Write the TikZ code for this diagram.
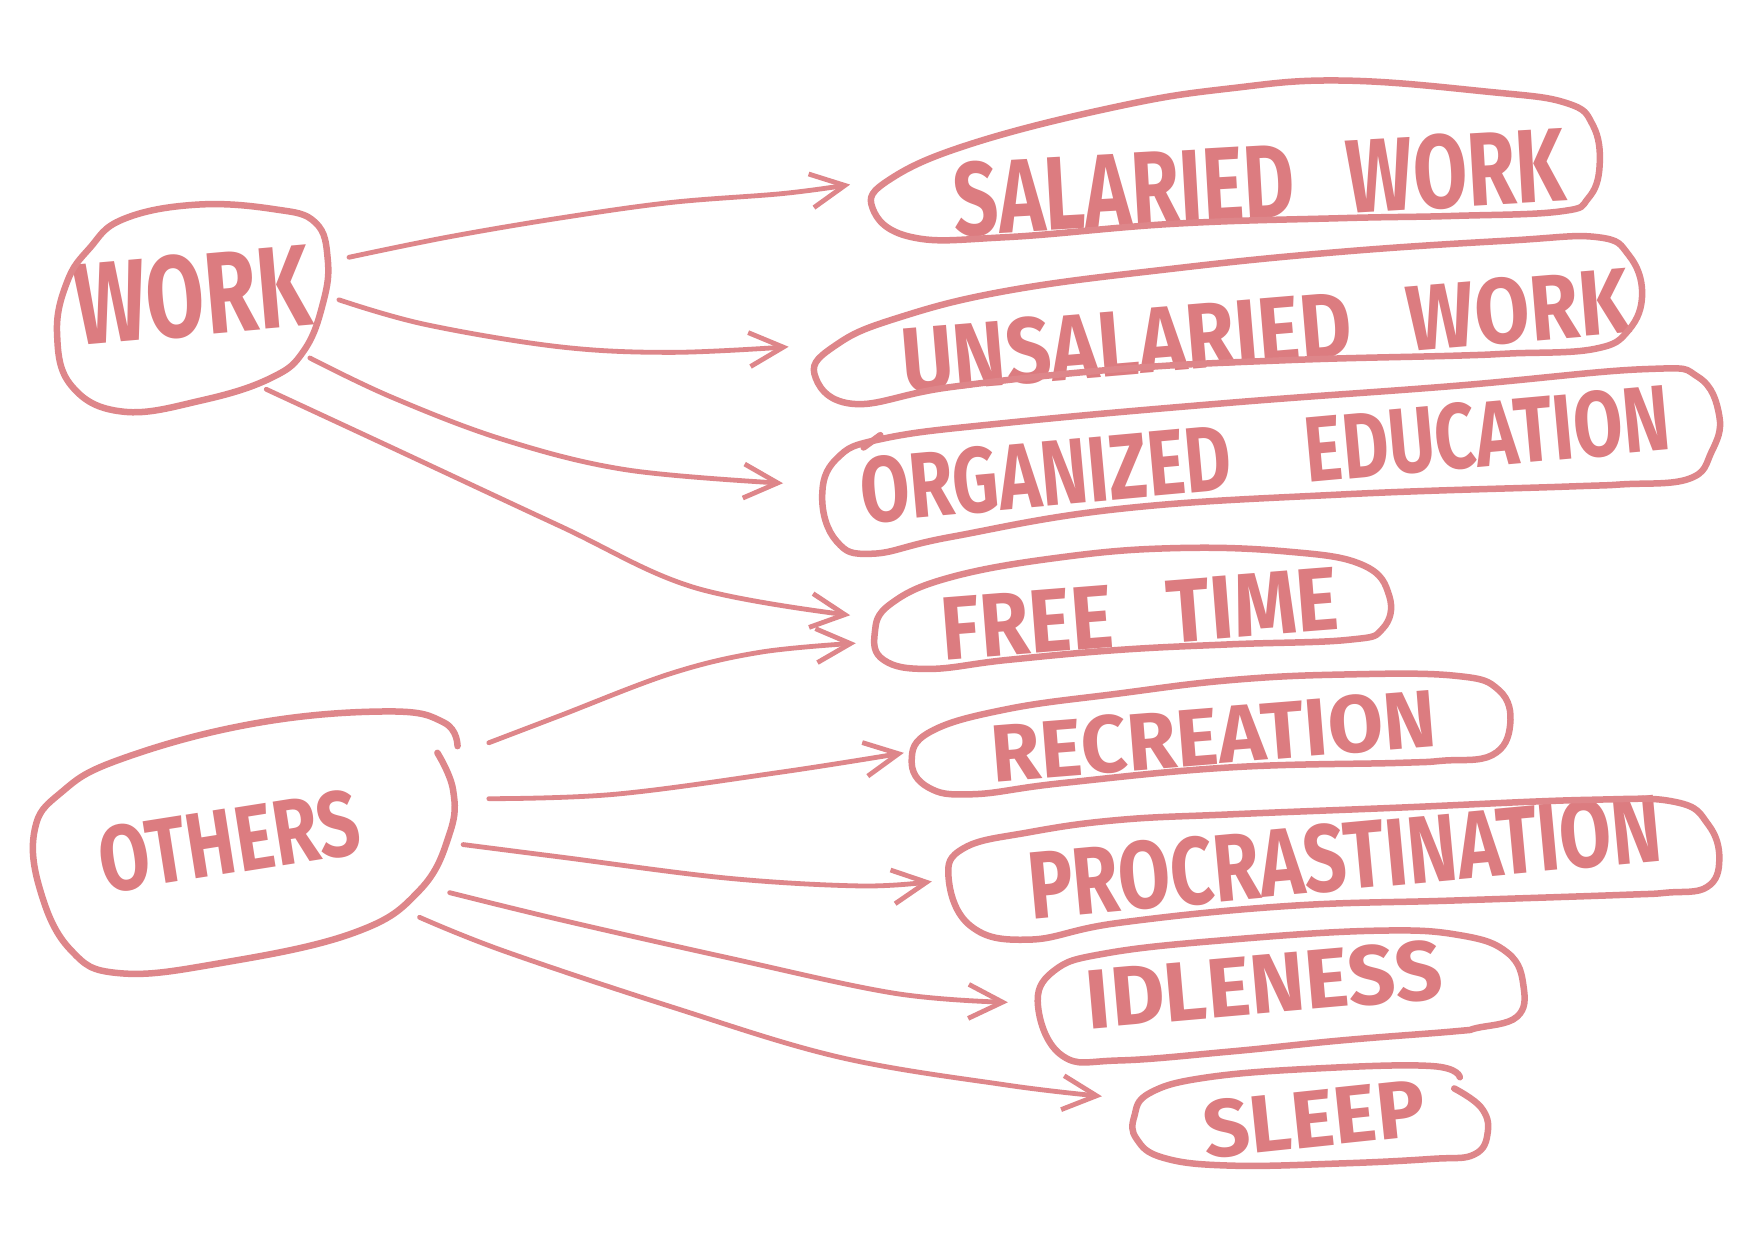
\documentclass[tikz,border=0pt]{standalone}
\usepackage{fontspec}
\usetikzlibrary{arrows.meta}
\definecolor{handred}{RGB}{222,134,138}
\definecolor{inkred}{RGB}{220,124,128}
\tikzset{
  blob/.style={draw=handred, line width=6.5pt, line cap=round, line join=round},
  arr/.style={draw=handred, line width=4.8pt, line cap=round, line join=round,
    -{Straight Barb[length=34pt,width=34pt,line width=4.8pt]}},
  txt/.style={inner sep=0pt, text=inkred}
}
\newlength\hwlen
% #1 target width (pt), #2 target cap height (pt), #3 text
\newcommand{\hw}[3]{%
  \pgfmathsetmacro\hwsize{#2/0.689}%
  \settowidth\hwlen{\fontsize{\hwsize pt}{\hwsize pt}\fontspec{Fira Sans}\bfseries #3}%
  \pgfmathsetmacro\hwst{#1/\hwlen}%
  \edef\hwsel{\noexpand\fontspec[FakeStretch=\hwst]{Fira Sans}}%
  {\fontsize{\hwsize pt}{\hwsize pt}\hwsel\bfseries #3}}
\begin{document}
\begin{tikzpicture}[x=1.1186pt, y=-1.1186pt]
\useasboundingbox[fill=white] (0,0) rectangle (1568,1109);

% ---------- texts ----------
\node[txt, rotate=5] (work) at (172,264) {\hw{236}{80}{WORK}};
\node[txt, rotate=9] (others) at (205,752) {\hw{262}{64}{OTHERS}};
\node[txt, rotate=3.3] (salaried) at (1126,163) {\hw{600}{72}{SALARIED\hspace{0.5em}WORK}};
\node[txt, rotate=4.8] (unsalaried) at (1131,296) {\hw{722}{64}{UNSALARIED\hspace{0.6em}WORK}};
\node[txt, rotate=5.2] (education) at (1131,406) {\hw{796}{64}{ORGANIZED\hspace{0.8em}EDUCATION}};
\node[txt, rotate=4.5] (freetime) at (1019,549) {\hw{392}{62}{FREE\hspace{0.6em}TIME}};
\node[txt, rotate=4.6] (recreation) at (1085,658) {\hw{446}{56}{RECREATION}};
\node[txt, rotate=5.3] (procrastination) at (1202,766) {\hw{636}{66}{PROCRASTINATION}};
\node[txt, rotate=5] (idleness) at (1130,880) {\hw{357}{58}{IDLENESS}};
\node[txt, rotate=6] (sleep) at (1175,1000) {\hw{223}{56}{SLEEP}};

% ---------- blobs ----------
\draw[blob] plot[smooth cycle, tension=0.7] coordinates {
 (51,298) (60,252) (80,222) (110,196) (175,183) (245,187) (282,199) (293,232) (289,270)
 (272,313) (242,338) (180,358) (110,368) (64,345)};
\draw[blob] plot[smooth, tension=0.7] coordinates {
 (409,667) (397,646) (346,636) (226,647) (107,679) (54,709) (31,742) (36,796)
 (63,849) (107,870) (197,861) (316,834) (375,796) (402,745) (405,706) (391,673)};
\draw[blob] plot[smooth cycle, tension=0.7] coordinates {
 (780,186) (796,160) (870,128) (1000,95) (1100,79) (1200,72) (1330,82) (1400,92)
 (1424,112) (1430,148) (1420,177) (1395,189) (1300,193) (1200,195) (1050,200)
 (900,212) (815,212)};
\draw[blob] plot[smooth cycle, tension=0.7] coordinates {
 (728,334) (748,308) (800,285) (900,260) (1050,240) (1200,225) (1350,215)
 (1428,212) (1456,228) (1468,262) (1456,295) (1425,312) (1350,316) (1300,318)
 (1150,322) (1000,330) (850,346) (762,361)};
\draw[blob] plot[smooth cycle, tension=0.7] coordinates {
 (735,445) (748,410) (790,392) (900,378) (1100,360) (1300,345) (1470,330)
 (1518,337) (1537,372) (1530,404) (1510,428) (1450,433) (1400,435) (1200,442)
 (1000,455) (850,480) (780,495) (748,484)};
\draw[blob] (787,389) -- (772,400);
\draw[blob] plot[smooth cycle, tension=0.7] coordinates {
 (782,566) (796,540) (850,516) (950,498) (1050,490) (1150,493) (1218,505)
 (1242,533) (1236,562) (1205,572) (1100,576) (1000,581) (900,590) (830,598)
 (790,590)};
\draw[blob] plot[smooth cycle, tension=0.7] coordinates {
 (815,680) (832,654) (900,634) (1000,620) (1100,608) (1200,603) (1300,604)
 (1340,617) (1350,648) (1334,675) (1290,680) (1250,682) (1100,686) (950,700)
 (870,710) (830,704)};
\draw[blob] plot[smooth cycle, tension=0.7] coordinates {
 (848,785) (862,758) (920,744) (1000,733) (1100,728) (1250,722) (1420,715)
 (1498,717) (1527,737) (1537,768) (1526,793) (1490,798) (1450,800) (1300,805)
 (1150,810) (1000,825) (920,840) (868,828)};
\draw[blob] plot[smooth cycle, tension=0.7] coordinates {
 (928,900) (942,868) (990,852) (1100,840) (1230,832) (1305,836) (1348,852)
 (1362,882) (1356,909) (1320,919) (1300,922) (1200,930) (1100,940) (1000,948)
 (950,944)};
\draw[blob] plot[smooth, tension=0.7] coordinates {
 (1300,973) (1324,990) (1330,1012) (1318,1032) (1280,1036) (1200,1040)
 (1100,1042) (1040,1035) (1016,1018) (1014,998) (1028,977) (1080,963)
 (1180,955) (1280,953) (1305,963)};

% ---------- connector anchors ----------
\coordinate (w1) at (312,230);  \coordinate (t1) at (760,165);
\coordinate (w2) at (303,268);  \coordinate (t2) at (705,310);
\coordinate (w3) at (277,320);  \coordinate (t3) at (700,432);
\coordinate (w4) at (238,348);  \coordinate (t4) at (760,550);
\coordinate (o1) at (437,664);  \coordinate (t5) at (765,575);
\coordinate (o2) at (437,714);  \coordinate (t6) at (808,673);
\coordinate (o3) at (414,755);  \coordinate (t7) at (833,788);
\coordinate (o4) at (402,798);  \coordinate (t8) at (901,896);
\coordinate (o5) at (375,820);  \coordinate (t9) at (985,980);

% ---------- connectors ----------
\draw[arr] plot[smooth, tension=0.6] coordinates {(w1) (400,212) (500,195) (600,181) (700,173) (t1)};
\draw[arr] plot[smooth, tension=0.6] coordinates {(w2) (380,290) (500,310) (600,315) (t2)};
\draw[arr] plot[smooth, tension=0.6] coordinates {(w3) (350,355) (450,393) (560,420) (t3)};
\draw[arr] plot[smooth, tension=0.6] coordinates {(w4) (350,400) (500,470) (620,525) (t4)};
\draw[arr] plot[smooth, tension=0.6] coordinates {(o1) (500,640) (600,602) (680,583) (t5)};
\draw[arr] plot[smooth, tension=0.6] coordinates {(o2) (550,710) (700,690) (t6)};
\draw[arr] plot[smooth, tension=0.6] coordinates {(o3) (500,766) (650,785) (770,792) (t7)};
\draw[arr] plot[smooth, tension=0.6] coordinates {(o4) (500,822) (650,856) (800,888) (t8)};
\draw[arr] plot[smooth, tension=0.6] coordinates {(o5) (450,850) (600,900) (750,945) (900,970) (t9)};
\end{tikzpicture}
\end{document}
